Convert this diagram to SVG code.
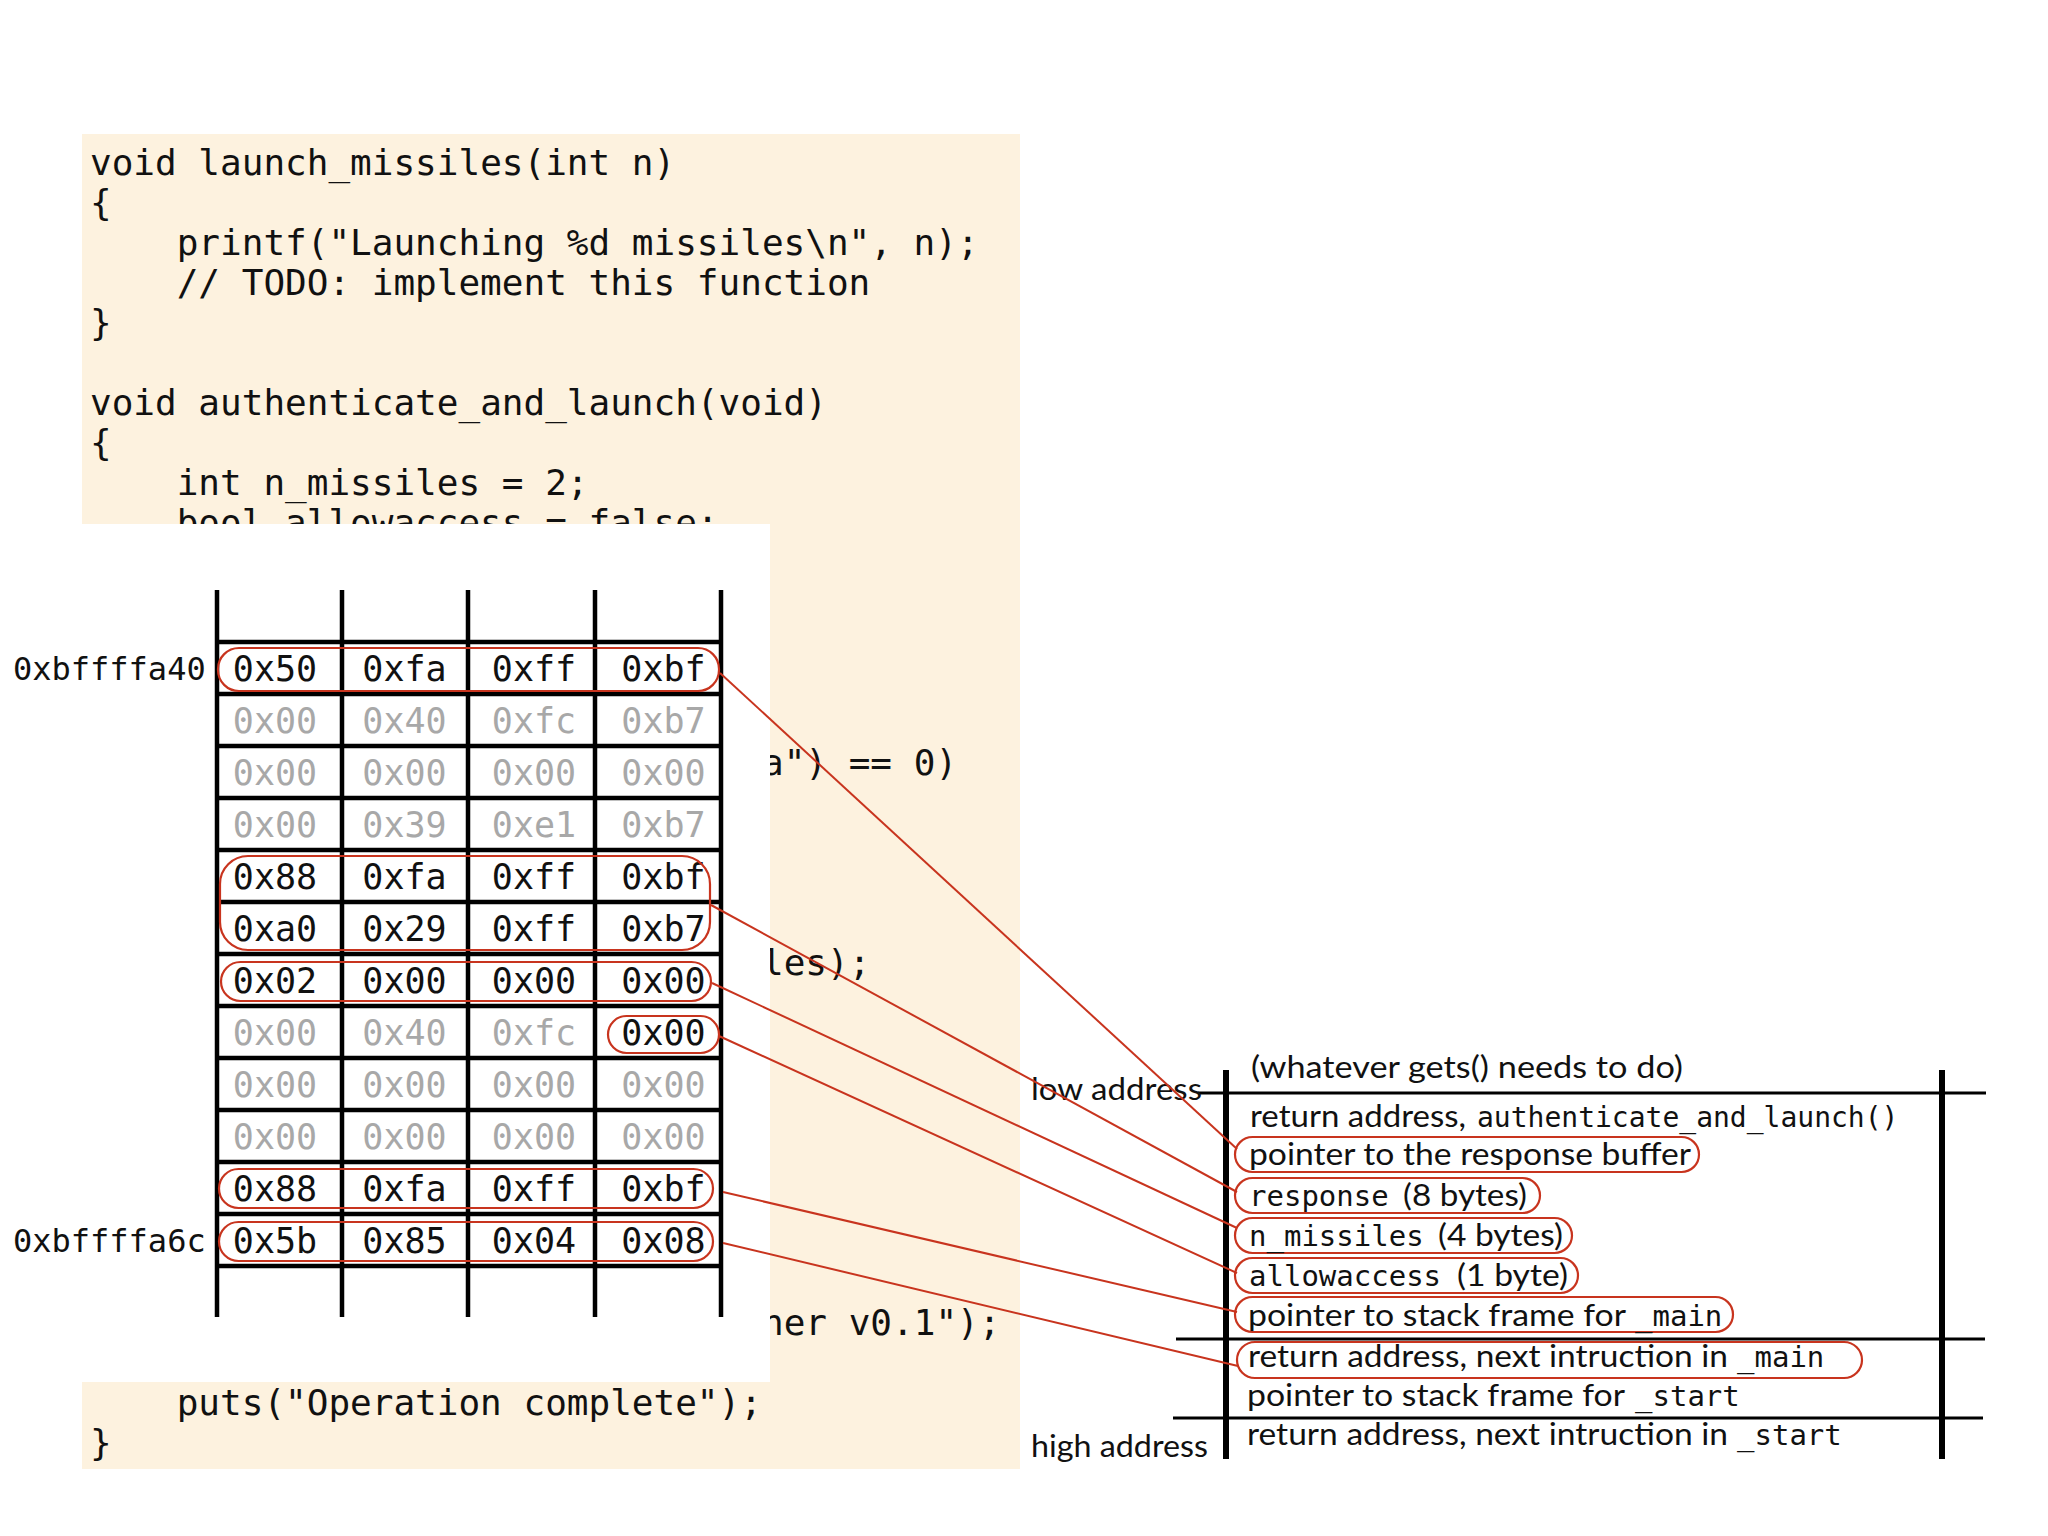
<svg xmlns="http://www.w3.org/2000/svg" width="2048" height="1536" viewBox="0 0 2048 1536">
<style>
.code{font-family:"DejaVu Sans Mono","Liberation Mono",monospace;font-size:36px;fill:#111}
.hex{font-family:"DejaVu Sans Mono","Liberation Mono",monospace;font-size:35px;text-anchor:middle}
.on{fill:#111}
.off{fill:#a8a8a8}
.addr{font-family:"DejaVu Sans Mono","Liberation Mono",monospace;font-size:32px;fill:#111}
.grid{stroke:#000;stroke-width:4.5;fill:none}
.hl{fill:none;stroke:#c8341e;stroke-width:2.2}
.conn line{stroke:#c8341e;stroke-width:2}
.sans{font-family:Lato,"Open Sans","Liberation Sans",sans-serif;font-size:31px;fill:#111}
.mono{font-family:"DejaVu Sans Mono","Liberation Mono",monospace;font-size:29px;fill:#111}
.bar{stroke:#000;stroke-width:6}
.rule{stroke:#000;stroke-width:3}
</style>
<rect width="2048" height="1536" fill="#fff"/>
<g id="code-listing">
<rect x="82" y="134" width="938" height="1335" fill="#fdf2df"/>
<text class="code" x="90" y="175">void launch_missiles(int n)</text>
<text class="code" x="90" y="215">{</text>
<text class="code" x="176.7" y="255">printf("Launching %d missiles\n", n);</text>
<text class="code" x="176.7" y="295">// TODO: implement this function</text>
<text class="code" x="90" y="335">}</text>
<text class="code" x="90" y="415">void authenticate_and_launch(void)</text>
<text class="code" x="90" y="455">{</text>
<text class="code" x="176.7" y="495">int n_missiles = 2;</text>
<text class="code" x="176.7" y="535">bool allowaccess = false;</text>
<text class="code" x="762" y="775">a") == 0)</text>
<text class="code" x="762" y="975">les);</text>
<text class="code" x="762" y="1335">her v0.1");</text>
<rect x="0" y="524" width="770" height="858" fill="#fff"/>
<text class="code" x="176.7" y="1415">puts("Operation complete");</text>
<text class="code" x="90" y="1455">}</text>
</g>
<g id="memory-grid">
<g class="grid">
<line x1="217" y1="590" x2="217" y2="1317"/>
<line x1="342" y1="590" x2="342" y2="1317"/>
<line x1="468" y1="590" x2="468" y2="1317"/>
<line x1="595" y1="590" x2="595" y2="1317"/>
<line x1="721" y1="590" x2="721" y2="1317"/>
<line x1="217" y1="642" x2="721" y2="642"/>
<line x1="217" y1="694" x2="721" y2="694"/>
<line x1="217" y1="746" x2="721" y2="746"/>
<line x1="217" y1="798" x2="721" y2="798"/>
<line x1="217" y1="850" x2="721" y2="850"/>
<line x1="217" y1="902" x2="721" y2="902"/>
<line x1="217" y1="954" x2="721" y2="954"/>
<line x1="217" y1="1006" x2="721" y2="1006"/>
<line x1="217" y1="1058" x2="721" y2="1058"/>
<line x1="217" y1="1110" x2="721" y2="1110"/>
<line x1="217" y1="1162" x2="721" y2="1162"/>
<line x1="217" y1="1214" x2="721" y2="1214"/>
<line x1="217" y1="1266" x2="721" y2="1266"/>
</g>
<text class="addr" x="13" y="680">0xbffffa40</text>
<text class="addr" x="13" y="1252">0xbffffa6c</text>
<g id="row1" class="hex on"><text x="275" y="681">0x50</text><text x="404.5" y="681">0xfa</text><text x="534" y="681">0xff</text><text x="663.5" y="681">0xbf</text></g>
<g id="row2" class="hex off"><text x="275" y="733">0x00</text><text x="404.5" y="733">0x40</text><text x="534" y="733">0xfc</text><text x="663.5" y="733">0xb7</text></g>
<g id="row3" class="hex off"><text x="275" y="785">0x00</text><text x="404.5" y="785">0x00</text><text x="534" y="785">0x00</text><text x="663.5" y="785">0x00</text></g>
<g id="row4" class="hex off"><text x="275" y="837">0x00</text><text x="404.5" y="837">0x39</text><text x="534" y="837">0xe1</text><text x="663.5" y="837">0xb7</text></g>
<g id="row5" class="hex on"><text x="275" y="889">0x88</text><text x="404.5" y="889">0xfa</text><text x="534" y="889">0xff</text><text x="663.5" y="889">0xbf</text></g>
<g id="row6" class="hex on"><text x="275" y="941">0xa0</text><text x="404.5" y="941">0x29</text><text x="534" y="941">0xff</text><text x="663.5" y="941">0xb7</text></g>
<g id="row7" class="hex on"><text x="275" y="993">0x02</text><text x="404.5" y="993">0x00</text><text x="534" y="993">0x00</text><text x="663.5" y="993">0x00</text></g>
<g id="row8" class="hex"><text class="off" x="275" y="1045">0x00</text><text class="off" x="404.5" y="1045">0x40</text><text class="off" x="534" y="1045">0xfc</text><text class="on" x="663.5" y="1045">0x00</text></g>
<g id="row9" class="hex off"><text x="275" y="1097">0x00</text><text x="404.5" y="1097">0x00</text><text x="534" y="1097">0x00</text><text x="663.5" y="1097">0x00</text></g>
<g id="row10" class="hex off"><text x="275" y="1149">0x00</text><text x="404.5" y="1149">0x00</text><text x="534" y="1149">0x00</text><text x="663.5" y="1149">0x00</text></g>
<g id="row11" class="hex on"><text x="275" y="1201">0x88</text><text x="404.5" y="1201">0xfa</text><text x="534" y="1201">0xff</text><text x="663.5" y="1201">0xbf</text></g>
<g id="row12" class="hex on"><text x="275" y="1253">0x5b</text><text x="404.5" y="1253">0x85</text><text x="534" y="1253">0x04</text><text x="663.5" y="1253">0x08</text></g>
<g id="grid-highlights" class="hl">
<rect x="218" y="648" width="501" height="43" rx="21"/>
<rect x="220" y="856" width="490" height="94" rx="28"/>
<rect x="221" y="962" width="490" height="39" rx="19.5"/>
<rect x="608" y="1016" width="111" height="37" rx="18.5"/>
<rect x="219" y="1169" width="494" height="39" rx="19.5"/>
<rect x="219" y="1222" width="494" height="39" rx="19.5"/>
</g>
</g>
<g id="stack-frame">
<line class="bar" x1="1226" y1="1070" x2="1226" y2="1459"/>
<line class="bar" x1="1942" y1="1070" x2="1942" y2="1459"/>
<line class="rule" x1="1198" y1="1093" x2="1986" y2="1093"/>
<line class="rule" x1="1176" y1="1339" x2="1985" y2="1339"/>
<line class="rule" x1="1173" y1="1418" x2="1983" y2="1418"/>
<text class="sans" x="1031" y="1100" textLength="171" lengthAdjust="spacingAndGlyphs">low address</text>
<text class="sans" x="1031" y="1457" textLength="177" lengthAdjust="spacingAndGlyphs">high address</text>
<g id="s-gets"><text class="sans" x="1251" y="1078" textLength="432" lengthAdjust="spacingAndGlyphs">(whatever gets() needs to do)</text></g>
<g id="s-ret-auth"><text class="sans" x="1250" y="1127" textLength="216" lengthAdjust="spacingAndGlyphs">return address,</text><text class="mono" x="1477" y="1127" style="font-size:28px">authenticate_and_launch()</text></g>
<g id="s-ptr-resp"><rect class="hl" x="1235" y="1137" width="464" height="35" rx="17.5"/><text class="sans" x="1249" y="1165" textLength="442" lengthAdjust="spacingAndGlyphs">pointer to the response buffer</text></g>
<g id="s-response"><rect class="hl" x="1235" y="1178" width="305" height="35" rx="17.5"/><text class="mono" x="1249" y="1206">response</text><text class="sans" x="1403" y="1206" textLength="124" lengthAdjust="spacingAndGlyphs">(8 bytes)</text></g>
<g id="s-nmiss"><rect class="hl" x="1235" y="1218" width="337" height="35" rx="17.5"/><text class="mono" x="1249" y="1246">n_missiles</text><text class="sans" x="1438" y="1246" textLength="125" lengthAdjust="spacingAndGlyphs">(4 bytes)</text></g>
<g id="s-allow"><rect class="hl" x="1235" y="1258" width="343" height="35" rx="17.5"/><text class="mono" x="1249" y="1286">allowaccess</text><text class="sans" x="1457" y="1286" textLength="111" lengthAdjust="spacingAndGlyphs">(1 byte)</text></g>
<g id="s-ptr-main"><rect class="hl" x="1235" y="1297" width="498" height="35" rx="17.5"/><text class="sans" x="1248" y="1326" textLength="378" lengthAdjust="spacingAndGlyphs">pointer to stack frame for</text><text class="mono" x="1635" y="1326">_main</text></g>
<g id="s-ret-main"><rect class="hl" x="1237" y="1342" width="625" height="36" rx="18"/><text class="sans" x="1248" y="1367" textLength="480" lengthAdjust="spacingAndGlyphs">return address, next intruction in</text><text class="mono" x="1737" y="1367">_main</text></g>
<g id="s-ptr-start"><text class="sans" x="1247" y="1406" textLength="378" lengthAdjust="spacingAndGlyphs">pointer to stack frame for</text><text class="mono" x="1635" y="1406">_start</text></g>
<g id="s-ret-start"><text class="sans" x="1247" y="1445" textLength="481" lengthAdjust="spacingAndGlyphs">return address, next intruction in</text><text class="mono" x="1737" y="1445">_start</text></g>
</g>
<g id="connectors" class="conn">
<line x1="720" y1="673" x2="1237" y2="1149"/>
<line x1="711" y1="905" x2="1237" y2="1192"/>
<line x1="712" y1="983" x2="1237" y2="1228"/>
<line x1="719" y1="1036" x2="1237" y2="1273"/>
<line x1="723" y1="1192" x2="1237" y2="1312"/>
<line x1="723" y1="1243" x2="1238" y2="1366"/>
</g>
</svg>
